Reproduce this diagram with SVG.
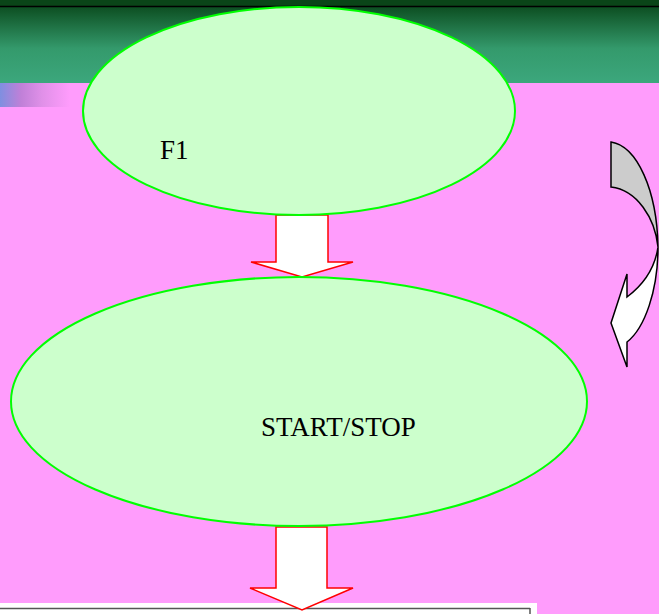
<svg xmlns="http://www.w3.org/2000/svg" width="659" height="614" viewBox="0 0 659 614">
<style>
.node{fill:#ccffcc;stroke:#00ff00;stroke-width:2}
.lbl{font-family:"Liberation Serif",serif;font-size:27px;fill:#000}
.flow{fill:#ffffff;stroke:#ff0000;stroke-width:1.5;stroke-linejoin:miter}
</style>
<defs>
<linearGradient id="band" x1="0" y1="0" x2="0" y2="1">
<stop offset="0" stop-color="#0d4f22"/>
<stop offset="0.55" stop-color="#349a6c"/>
<stop offset="1" stop-color="#3ca77d"/>
</linearGradient>
<linearGradient id="noise" x1="0" y1="0" x2="1" y2="0">
<stop offset="0" stop-color="#7f8fe0"/>
<stop offset="0.3" stop-color="#c080d8"/>
<stop offset="0.6" stop-color="#e090e8"/>
<stop offset="1" stop-color="#ff9cfc"/>
</linearGradient>
</defs>
<rect x="0" y="0" width="659" height="614" fill="#ff9cfc"/>
<rect x="0" y="0" width="659" height="7" fill="#0a4518"/>
<rect x="0" y="7" width="659" height="76" fill="url(#band)"/>
<line x1="0" y1="6.5" x2="659" y2="6.5" stroke="#000" stroke-width="1.5"/>
<rect x="0" y="83" width="70" height="24" fill="url(#noise)"/>
<rect x="0" y="603" width="537" height="11" fill="#ffffff"/>
<line x1="0" y1="608.5" x2="530" y2="608.5" stroke="#555" stroke-width="1.5"/>
<line x1="530" y1="608" x2="530" y2="614" stroke="#555" stroke-width="1.5"/>
<g id="connectors">
<path class="flow" d="M276,215 L328,215 L328,262 L353,262 L302,277 L251,262 L276,262 Z"/>
<path class="flow" d="M276,527 L327,527 L327,588 L353,588 L302,610 L250,588 L276,588 Z"/>
</g>
<g id="node-f1">
<ellipse class="node" cx="299" cy="111" rx="216" ry="104"/>
<text class="lbl" x="160" y="159">F1</text>
</g>
<g id="node-startstop">
<ellipse class="node" cx="299" cy="401.5" rx="288" ry="124.5"/>
<text class="lbl" x="261" y="436">START/STOP</text>
</g>
<g id="curved-arrow">
<path d="M611,142 C637,146 657,190 658,247 C655,218 637,190 611,187 Z" fill="#cccccc" stroke="#000" stroke-width="1.5"/>
<path d="M658,247 C658,290 645,328 627,342 L627,367 L611,323 L627,274 L627,297 C643,285 655,268 658,247 Z" fill="#ffffff" stroke="#000" stroke-width="1.5"/>
</g>
</svg>
